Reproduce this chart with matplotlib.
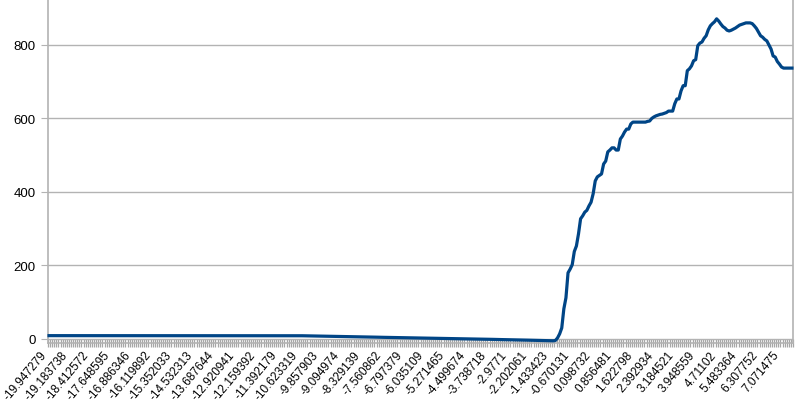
import numpy as np
import matplotlib
matplotlib.use("Agg")
import matplotlib.pyplot as plt
from matplotlib.ticker import FixedLocator

# x labels shown on the category axis (every 10th category)
tick_labels = ["-19.947279", "-19.183738", "-18.412572", "-17.648595", "-16.886346",
               "-16.119892", "-15.352033", "-14.532313", "-13.687644", "-12.920941",
               "-12.159392", "-11.392179", "-10.623319", "-9.857903", "-9.094974",
               "-8.329139", "-7.560862", "-6.797379", "-6.035109", "-5.271465",
               "-4.499674", "-3.738718", "-2.9771", "-2.202061", "-1.433423",
               "-0.670131", "0.098732", "0.856481", "1.622798", "2.392934",
               "3.184521", "3.948559", "4.71102", "5.483364", "6.307752", "7.071475"]
label_every = 10

# series values, one per category
flat_part = [
    9, 9, 9, 9, 9, 9, 9, 9, 9, 9, 9, 9, 9, 9, 9, 9, 9, 9, 9, 9,
    9, 9, 9, 9, 9, 9, 9, 9, 9, 9, 9, 9, 9, 9, 9, 9, 9, 9, 9, 9,
    9, 9, 9, 9, 9, 9, 9, 9, 9, 9, 9, 9, 9, 9, 9, 9, 9, 9, 9, 9,
    9, 9, 9, 9, 9, 9, 9, 9, 9, 9, 9, 9, 9, 9, 9, 9, 9, 9, 9, 9,
    9, 9, 9, 9, 9, 9, 9, 9, 9, 9, 9, 9, 9, 9, 9, 9, 9, 9, 9, 9,
    9, 9, 9, 9, 9, 9, 9, 9, 9, 9, 9, 9, 9, 9, 8.9, 8.9, 8.9, 8.9, 8.8, 8.8,
    8.8, 8.7, 8.6, 8.5, 8.4, 8.3, 8.2, 8.1, 8.0, 7.9, 7.8, 7.7, 7.6, 7.5, 7.4, 7.3, 7.2, 7.1, 7.0, 6.9,
    6.8, 6.7, 6.6, 6.4, 6.3, 6.2, 6.1, 6.0, 5.9, 5.7, 5.6, 5.5, 5.4, 5.2, 5.1, 5.0, 4.9, 4.7, 4.6, 4.5,
    4.4, 4.3, 4.2, 4.1, 4.0, 3.9, 3.8, 3.7, 3.6, 3.5, 3.4, 3.3, 3.2, 3.1, 3.0, 2.9, 2.8, 2.7, 2.6, 2.5,
    2.4, 2.3, 2.2, 2.1, 2.0, 1.9, 1.8, 1.7, 1.6, 1.5, 1.4, 1.3, 1.2, 1.1, 1.0, 0.9, 0.8, 0.7, 0.6, 0.5,
    0.4, 0.3, 0.1, 0.0, -0.1, -0.2, -0.4, -0.5, -0.6, -0.7, -0.9, -1.0, -1.1, -1.3, -1.4, -1.5, -1.6, -1.8, -1.9, -2.0,
    -2.1, -2.3, -2.4, -2.5, -2.7, -2.8, -2.9, -3.1, -3.2, -3.3, -3.5, -3.6, -3.7, -3.9, -4.0, -4.1, -4.3, -4.4, -4.5, -4.7,
    -4.8, -5.0,
]
rise_part = [
    -4, 3, 14, 30, 82, 112, 180, 190, 202, 238,
    253, 286, 327, 335, 345, 350, 362, 372, 395, 430,
    441, 445, 449, 476, 484, 509, 514, 520, 520, 514,
    514, 544, 552, 563, 571, 571, 585, 590, 590, 590,
    590, 590, 590, 590, 592, 593, 600, 604, 607, 609,
    611, 612, 614, 616, 620, 620, 620, 640, 653, 653,
    675, 689, 689, 730, 735, 743, 757, 760, 798, 805,
    808, 818, 825, 841, 852, 858, 863, 871, 865, 857,
    850, 846, 840, 838, 840, 843, 846, 850, 854, 856,
    858, 860, 860, 860, 858, 852, 845, 835, 825, 821,
    815, 811, 800, 789, 770, 767, 755, 748, 740, 737,
    737, 737, 737, 737,
]
values = flat_part + rise_part

fig = plt.figure(figsize=(7.97, 4.06), dpi=100)
ax = fig.add_axes([48 / 797, 62 / 406, 745 / 797, 344 / 406])

grey = "#b3b3b3"
n = len(values)
ax.plot(np.arange(n), values, color="#004586", linewidth=2.3, zorder=3, clip_on=False)

ax.set_xlim(-0.5, n - 0.5)
ax.set_ylim(-11, 925)

# y axis
ax.set_yticks([0, 200, 400, 600, 800])
ax.yaxis.grid(True, color=grey, linewidth=1)
ax.set_axisbelow(True)

# category axis: label every 10th category, a tick between every category
label_pos = np.arange(len(tick_labels)) * label_every
ax.set_xticks(label_pos)
ax.set_xticklabels(tick_labels, rotation=50, ha="right", va="top")
ax.xaxis.set_minor_locator(FixedLocator(np.arange(n + 1) - 0.5))
ax.tick_params(axis="x", which="major", length=0, pad=4, labelsize=8.5)
ax.tick_params(axis="x", which="minor", direction="inout", length=6, width=0.9, color="#a6a6a6")
ax.tick_params(axis="y", length=5, color=grey, labelsize=9.5, pad=4)

for lab in ax.get_xticklabels() + ax.get_yticklabels():
    lab.set_fontfamily("Liberation Sans")

for side in ["left", "right", "bottom"]:
    ax.spines[side].set_color(grey)
    ax.spines[side].set_linewidth(1.2)
ax.spines["top"].set_visible(False)

fig.savefig("out.png", dpi=100)
